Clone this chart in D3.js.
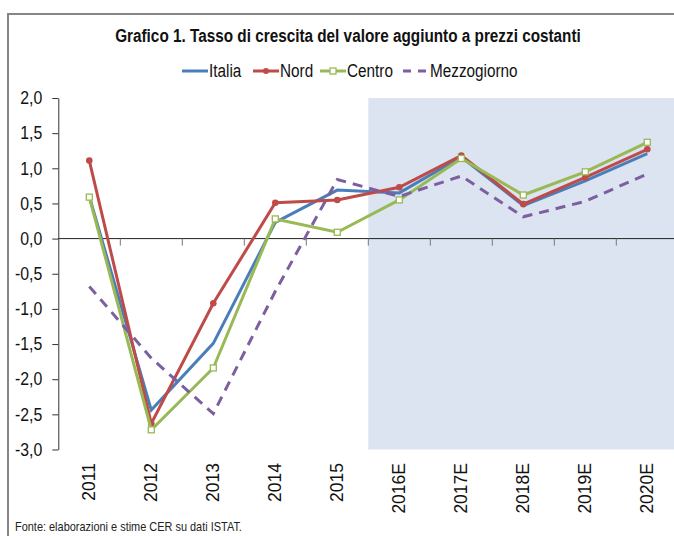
<!DOCTYPE html>
<html>
<head>
<meta charset="utf-8">
<script src="https://cdn.jsdelivr.net/npm/d3@7"></script>
<style>
  body { margin: 0; background: #fff; }
  svg { display: block; }
  .narrow { font-family: "Liberation Sans Narrow", "Arial Narrow", "Liberation Sans", sans-serif; }
</style>
</head>
<body>
<div id="chart"></div>
<script>
// dati
const anni = ["2011", "2012", "2013", "2014", "2015", "2016E", "2017E", "2018E", "2019E", "2020E"];
const italia = [0.60, -2.44, -1.49, 0.23, 0.69, 0.65, 1.16, 0.47, 0.82, 1.21];
const nord = [1.11, -2.63, -0.92, 0.51, 0.55, 0.73, 1.18, 0.49, 0.87, 1.27];
const centro = [0.59, -2.72, -1.84, 0.28, 0.09, 0.55, 1.14, 0.62, 0.95, 1.37];
const mezzogiorno = [-0.68, -1.70, -2.49, -0.75, 0.84, 0.60, 0.89, 0.31, 0.53, 0.92];
const yTicks = [-3, -2.5, -2, -1.5, -1, -0.5, 0, 0.5, 1, 1.5, 2];
const primoStimato = "2016E";

const W = 674, H = 536;
const svg = d3.select("#chart").append("svg")
    .attr("width", W)
    .attr("height", H);

// stringe il testo (niente Arial Narrow installato)
function stringi(sel, f) {
    sel.each(function () {
        const l = this.getComputedTextLength();
        d3.select(this).attr("textLength", l * f).attr("lengthAdjust", "spacingAndGlyphs");
    });
}

// cornice
svg.append("rect")
    .attr("x", 8).attr("y", 14)
    .attr("width", 720).attr("height", 560)
    .attr("fill", "none")
    .attr("stroke", "#868686")
    .attr("stroke-width", 2);

const x = d3.scaleBand().domain(anni).range([58.3, 678.3]);
const y = d3.scaleLinear().domain([-3, 2]).range([449.5, 98]);
const bw = x.bandwidth();
const cx = a => x(a) + bw / 2;

// area delle stime
svg.append("rect")
    .attr("x", x(primoStimato))
    .attr("y", y(2))
    .attr("width", x.range()[1] - x(primoStimato))
    .attr("height", y(-3) - y(2))
    .attr("fill", "#dbe4f0");

// titolo
svg.append("text")
    .attr("class", "narrow")
    .attr("x", 348).attr("y", 42)
    .attr("text-anchor", "middle")
    .style("font-size", "18px")
    .style("font-weight", "bold")
    .attr("fill", "#111")
    .text("Grafico 1. Tasso di crescita del valore aggiunto a prezzi costanti")
    .call(stringi, 0.85);

// asse y
const yAxis = svg.append("g")
    .attr("transform", "translate(" + x.range()[0] + ",0)")
    .call(d3.axisLeft(y)
        .tickValues(yTicks)
        .tickSize(6)
        .tickSizeOuter(0)
        .tickPadding(10)
        .tickFormat(d => d.toFixed(1).replace(".", ",")));
yAxis.select(".domain").attr("stroke", "#333");
yAxis.selectAll(".tick line").attr("stroke", "#333");
yAxis.selectAll(".tick text")
    .attr("class", "narrow")
    .style("font-size", "18px")
    .attr("fill", "#111")
    .call(stringi, 0.88);

// asse x sullo zero
const xAxis = svg.append("g")
    .attr("transform", "translate(0," + y(0) + ")");
xAxis.append("line")
    .attr("x1", x.range()[0]).attr("x2", x.range()[1])
    .attr("stroke", "#222").attr("stroke-width", 1);
xAxis.selectAll(".tk")
    .data(anni)
    .enter().append("line")
    .attr("class", "tk")
    .attr("x1", d => x(d) + bw).attr("x2", d => x(d) + bw)
    .attr("y1", 0).attr("y2", 7)
    .attr("stroke", "#777");

// etichette anni ruotate
svg.selectAll(".lab")
    .data(anni)
    .enter().append("text")
    .attr("class", "lab")
    .attr("transform", d => "translate(" + cx(d) + ",463) rotate(-90)")
    .attr("text-anchor", "end")
    .attr("dy", "0.35em")
    .style("font-family", "'Liberation Sans', Arial, sans-serif")
    .style("font-size", "17.5px")
    .attr("fill", "#111")
    .text(d => d);

// serie
const serie = [
    { nome: "Italia", valori: italia, colore: "#4a7ebb", dash: null, marker: null },
    { nome: "Nord", valori: nord, colore: "#be4b48", dash: null, marker: "cerchio" },
    { nome: "Centro", valori: centro, colore: "#98b954", dash: null, marker: "quadrato" },
    { nome: "Mezzogiorno", valori: mezzogiorno, colore: "#7d5fa0", dash: "10,7", marker: null }
];

const line = d3.line()
    .x((d, i) => cx(anni[i]))
    .y(d => y(d));

serie.forEach(function (s) {
    svg.append("path")
        .datum(s.valori)
        .attr("fill", "none")
        .attr("stroke", s.colore)
        .attr("stroke-width", 3)
        .attr("stroke-dasharray", s.dash)
        .attr("d", line);
    if (s.marker === "cerchio") {
        svg.selectAll(null)
            .data(s.valori)
            .enter().append("circle")
            .attr("cx", (d, i) => cx(anni[i]))
            .attr("cy", d => y(d))
            .attr("r", 3.3)
            .attr("fill", s.colore);
    }
    if (s.marker === "quadrato") {
        svg.selectAll(null)
            .data(s.valori)
            .enter().append("rect")
            .attr("x", (d, i) => cx(anni[i]) - 3)
            .attr("y", d => y(d) - 3)
            .attr("width", 6).attr("height", 6)
            .attr("fill", "#fff")
            .attr("stroke", s.colore)
            .attr("stroke-width", 1.3);
    }
});

// legenda
const legPos = [182, 253, 320, 403];
const leg = svg.append("g").attr("transform", "translate(0,71)");
serie.forEach(function (s, i) {
    const g = leg.append("g").attr("transform", "translate(" + legPos[i] + ",0)");
    g.append("line")
        .attr("x1", 0).attr("x2", 26)
        .attr("stroke", s.colore)
        .attr("stroke-width", 3)
        .attr("stroke-dasharray", s.dash ? "8,7" : null);
    if (s.marker === "cerchio") {
        g.append("circle").attr("cx", 13).attr("r", 3).attr("fill", s.colore);
    }
    if (s.marker === "quadrato") {
        g.append("rect").attr("x", 10).attr("y", -3).attr("width", 6).attr("height", 6)
            .attr("fill", "#fff").attr("stroke", s.colore).attr("stroke-width", 1.3);
    }
    g.append("text")
        .attr("class", "narrow")
        .attr("x", 27).attr("dy", "0.35em")
        .style("font-size", "18px")
        .attr("fill", "#111")
        .text(s.nome)
        .call(stringi, 0.85);
});

// fonte
svg.append("text")
    .attr("class", "narrow")
    .attr("x", 15).attr("y", 531)
    .style("font-size", "13.5px")
    .attr("fill", "#222")
    .text("Fonte: elaborazioni e stime CER su dati ISTAT.")
    .call(stringi, 0.81);
</script>
</body>
</html>
